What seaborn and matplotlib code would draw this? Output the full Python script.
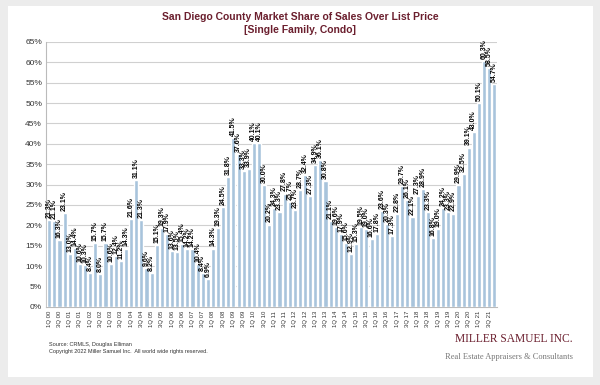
import numpy as np
import pandas as pd
import matplotlib.pyplot as plt
import seaborn as sns
from matplotlib.patches import Rectangle

# Quarterly share of sales over list price (%)
years = [f"{y:02d}" for y in range(0, 22)]
quarters = ["1Q", "2Q", "3Q", "4Q"]
share = [
    21.3, 21.1, 16.3, 23.1,   # 2000
    13.0, 14.4, 10.6, 10.3,   # 2001
    8.4, 15.7, 8.0, 15.7,     # 2002
    10.6, 12.4, 11.2, 14.3,   # 2003
    21.6, 31.1, 21.3, 9.6,    # 2004
    8.2, 15.1, 19.3, 17.9,    # 2005
    13.6, 13.5, 15.4, 14.2,   # 2006
    14.2, 10.4, 8.4, 6.9,     # 2007
    14.3, 19.3, 24.5, 31.8,   # 2008
    41.5, 37.6, 33.3, 33.9,   # 2009
    40.1, 40.1, 30.0, 20.2,   # 2010
    24.3, 23.3, 27.8, 25.7,   # 2011
    23.7, 28.7, 32.4, 27.3,   # 2012
    34.9, 36.1, 30.8, 21.1,   # 2013
    19.6, 17.9, 15.6, 12.9,   # 2014
    15.3, 19.5, 19.0, 16.6,   # 2015
    17.8, 23.6, 20.3, 17.3,   # 2016
    22.8, 29.7, 26.1, 22.1,   # 2017
    27.3, 28.9, 23.3, 16.8,   # 2018
    19.0, 24.2, 23.3, 22.9,   # 2019
    29.9, 32.5, 39.1, 43.0,   # 2020
    50.1, 60.3, 58.5, 54.7,   # 2021
]
periods = [f"{q} {y}" for y in years for q in quarters]

df = pd.DataFrame({"period": periods, "share": share})

sns.set_style("white")
plt.rcParams['font.family'] = ['Liberation Sans', 'DejaVu Sans']

fig = plt.figure(figsize=(6, 3.85), dpi=100, facecolor="#ececec")
fig.patches.append(Rectangle((0.013, 0.02), 0.975, 0.965, transform=fig.transFigure,
                             facecolor="white", edgecolor="none", zorder=-5))

ax = fig.add_axes([0.077, 0.203, 0.752, 0.688])
ax.set_zorder(2)
sns.barplot(data=df, x="period", y="share", color="#a8c4dc", saturation=1,
            width=0.8, ax=ax, zorder=3)

for c in ax.containers:
    ax.bar_label(c, labels=[f"{v:.1f}%" for v in df["share"]], rotation=90,
                 fontsize=5, fontweight="bold", padding=1.5, color="black")

ax.set_ylim(0, 65)
ax.set_yticks(np.arange(0, 66, 5))
ax.set_yticklabels([f"{v}%" for v in range(0, 66, 5)], fontsize=6, color="#333333")
ax.set_xlim(-0.6, len(periods) - 0.4)
ax.set_xticks(range(0, len(periods), 2))
ax.set_xticklabels(periods[::2], rotation=90, fontsize=4.3, color="#333333")
ax.tick_params(axis="both", length=0, pad=3)
ax.grid(axis="y", color="#d0d0d0", linewidth=0.8, zorder=0)
ax.set_axisbelow(True)
ax.set_xlabel("")
ax.set_ylabel("")
for s in ["top", "right"]:
    ax.spines[s].set_visible(False)
ax.spines["left"].set_color("#bbbbbb")
ax.spines["bottom"].set_color("#bbbbbb")

fig.text(0.5, 0.955, "San Diego County Market Share of Sales Over List Price",
         ha="center", va="center", fontsize=7.5, fontweight="bold", color="#6b1f2e")
fig.text(0.5, 0.922, "[Single Family, Condo]",
         ha="center", va="center", fontsize=7.5, fontweight="bold", color="#6b1f2e")

fig.text(0.082, 0.106, "Source: CRMLS, Douglas Elliman", fontsize=4, color="#333333", va="center")
fig.text(0.082, 0.086, "Copyright 2022 Miller Samuel Inc.  All world wide rights reserved.",
         fontsize=4, color="#333333", va="center")

serif = ["Liberation Serif", "DejaVu Serif"]
fig.text(0.955, 0.12, "MILLER SAMUEL INC.", ha="right", va="center", fontsize=8.3,
         family=serif, color="#6b1f2e")
fig.text(0.955, 0.072, "Real Estate Appraisers & Consultants", ha="right", va="center",
         fontsize=6, family=serif, color="#777777")

fig.savefig("out.png", dpi=100, facecolor=fig.get_facecolor())
